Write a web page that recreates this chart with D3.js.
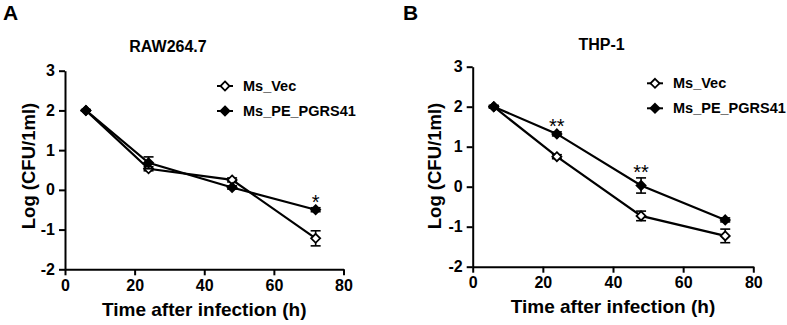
<!DOCTYPE html>
<html>
<head>
<meta charset="utf-8">
<script src="https://cdn.jsdelivr.net/npm/d3@7"></script>
<style>
  body { margin: 0; background: #fff; }
  svg text { font-family: "Liberation Sans", Arial, sans-serif; font-weight: bold; fill: #000; }
</style>
</head>
<body>
<svg id="drawing_region"></svg>
<script>
// data
const hours = [6, 24, 48, 72];
const xTicks = [0, 20, 40, 60, 80];
const yTicks = [-2, -1, 0, 1, 2, 3];
const seriesNames = ["Ms_Vec", "Ms_PE_PGRS41"];

const rawVec = [2.0, 0.53, 0.25, -1.22];
const rawVecErr = [0.02, 0.05, 0.05, 0.19];
const rawPgrs = [2.0, 0.68, 0.06, -0.50];
const rawPgrsErr = [0.02, 0.15, 0.04, 0.05];
const rawSig = ["", "", "", "*"];

const thpVec = [2.0, 0.75, -0.73, -1.23];
const thpVecErr = [0.03, 0.05, 0.12, 0.17];
const thpPgrs = [2.0, 1.32, 0.03, -0.83];
const thpPgrsErr = [0.03, 0.05, 0.19, 0.05];
const thpSig = ["", "**", "**", ""];

const svg = d3.select('#drawing_region')
    .attr('width', 787)
    .attr('height', 325);

class GrowthChart {

    constructor( config, vec, vecErr, pgrs, pgrsErr, sig ){
        this.config = config;
        this.series = [
            { name: seriesNames[0], open: true,  values: vec,  err: vecErr },
            { name: seriesNames[1], open: false, values: pgrs, err: pgrsErr }
        ];
        this.sig = sig;
        this.init();
        this.render();
    }

    init(){
        let self = this;
        const c = self.config;

        self.g = svg.append('g');

        self.xscale = d3.scaleLinear()
            .domain([0, 80])
            .range([c.left, c.right]);

        self.yscale = d3.scaleLinear()
            .domain([-2, 3])
            .range([c.bottom, c.top]);

        self.line = d3.line()
            .x( d => self.xscale(d.x) )
            .y( d => self.yscale(d.y) );

        self.symbol = d3.symbol().type(d3.symbolDiamond2).size(52);
    }

    render(){
        let self = this;
        const c = self.config;

        // panel letter and title
        self.g.append('text')
            .attr('x', c.letterX)
            .attr('y', 20)
            .attr('font-size', '21px')
            .text(c.letter);

        self.g.append('text')
            .attr('x', c.titleX)
            .attr('y', c.titleY)
            .attr('text-anchor', 'middle')
            .attr('font-size', '16px')
            .text(c.title);

        // axes
        const xaxis = d3.axisBottom(self.xscale)
            .tickValues(xTicks)
            .tickFormat( d => String(d) )
            .tickSize(6)
            .tickPadding(4)
            .tickSizeOuter(0);

        const yaxis = d3.axisLeft(self.yscale)
            .tickValues(yTicks)
            .tickFormat( d => String(d) )
            .tickSize(6)
            .tickPadding(4)
            .tickSizeOuter(0);

        const xg = self.g.append('g')
            .attr('transform', `translate(0, ${c.bottom})`)
            .call(xaxis);
        const yg = self.g.append('g')
            .attr('transform', `translate(${c.left}, 0)`)
            .call(yaxis);

        [xg, yg].forEach( g => {
            g.selectAll('path, line').attr('stroke', '#000').attr('stroke-width', 2);
            g.selectAll('text')
                .attr('font-size', '16px')
                .attr('font-family', '"Liberation Sans", Arial, sans-serif')
                .attr('font-weight', 'bold')
                .attr('fill', '#000');
        });

        self.g.append('text')
            .attr('x', (c.left + c.right) / 2)
            .attr('y', c.bottom + 46.5)
            .attr('text-anchor', 'middle')
            .attr('font-size', '19px')
            .text('Time after infection (h)');

        self.g.append('text')
            .attr('transform', `translate(${c.ylabelX}, ${c.ylabelY}) rotate(-90)`)
            .attr('text-anchor', 'middle')
            .attr('font-size', '18.5px')
            .text('Log (CFU/1ml)');

        // series: lines, error bars, markers
        self.series.forEach( s => {
            const pts = hours.map( (h, i) => ({ x: h, y: s.values[i], e: s.err[i] }) );

            self.g.append('path')
                .attr('d', self.line(pts))
                .attr('fill', 'none')
                .attr('stroke', '#000')
                .attr('stroke-width', 2.2);

            const eb = self.g.append('g').attr('stroke', '#000').attr('stroke-width', 1.6);
            pts.forEach( p => {
                const x = self.xscale(p.x);
                const y0 = self.yscale(p.y - p.e), y1 = self.yscale(p.y + p.e);
                eb.append('line').attr('x1', x).attr('x2', x).attr('y1', y0).attr('y2', y1);
                eb.append('line').attr('x1', x - 5).attr('x2', x + 5).attr('y1', y0).attr('y2', y0);
                eb.append('line').attr('x1', x - 5).attr('x2', x + 5).attr('y1', y1).attr('y2', y1);
            });

            self.g.selectAll(null)
                .data(pts)
                .join('path')
                .attr('d', self.symbol)
                .attr('transform', d => `translate(${self.xscale(d.x)}, ${self.yscale(d.y)})`)
                .attr('fill', s.open ? '#fff' : '#000')
                .attr('stroke', '#000')
                .attr('stroke-width', 1.8);
        });

        // significance marks, above the higher series
        self.sig.forEach( (t, i) => {
            if (!t) return;
            const top = d3.max(self.series, s => s.values[i] + s.err[i]);
            self.g.append('text')
                .attr('x', self.xscale(hours[i]))
                .attr('y', self.yscale(top) + 1)
                .attr('text-anchor', 'middle')
                .attr('font-size', '20px')
                .style('font-weight', 'normal')
                .text(t);
        });

        // legend
        self.series.forEach( (s, i) => {
            const y = c.legendY + i * 25;
            self.g.append('line')
                .attr('x1', c.legendX - 8).attr('x2', c.legendX + 8)
                .attr('y1', y).attr('y2', y)
                .attr('stroke', '#000').attr('stroke-width', 2);
            self.g.append('path')
                .attr('d', self.symbol)
                .attr('transform', `translate(${c.legendX}, ${y})`)
                .attr('fill', s.open ? '#fff' : '#000')
                .attr('stroke', '#000')
                .attr('stroke-width', 1.8);
            self.g.append('text')
                .attr('x', c.legendX + 18)
                .attr('y', y + 5)
                .attr('font-size', '14.5px')
                .text(s.name);
        });
    }
}

new GrowthChart({
    letter: 'A', letterX: 3, title: 'RAW264.7', titleX: 168, titleY: 52,
    left: 65, right: 343.5, top: 70.7, bottom: 269.3,
    ylabelX: 35, ylabelY: 166,
    legendX: 225, legendY: 86
}, rawVec, rawVecErr, rawPgrs, rawPgrsErr, rawSig);

new GrowthChart({
    letter: 'B', letterX: 403, title: 'THP-1', titleX: 601.5, titleY: 50,
    left: 472.7, right: 753.3, top: 66.7, bottom: 266.7,
    ylabelX: 441, ylabelY: 166,
    legendX: 655, legendY: 83.3
}, thpVec, thpVecErr, thpPgrs, thpPgrsErr, thpSig);
</script>
</body>
</html>
